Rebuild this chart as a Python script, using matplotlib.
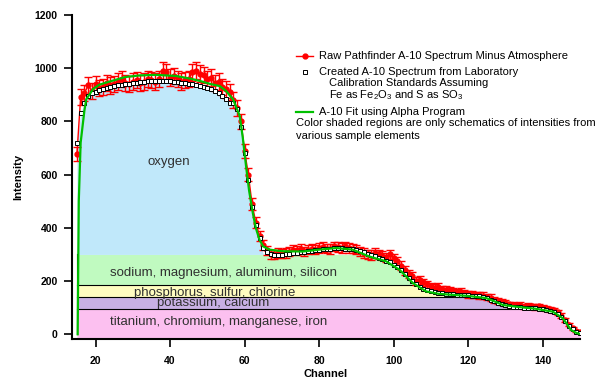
import numpy as np
import matplotlib
matplotlib.use('Agg')
import matplotlib.pyplot as plt
from matplotlib.lines import Line2D

plt.rcParams['font.family'] = ['Liberation Sans', 'DejaVu Sans']
plt.rcParams['mathtext.default'] = 'regular'

# channel numbers for the measured / lab spectra
channels = np.arange(15, 151)

# created spectrum from laboratory standards (open squares)
lab = [720, 830, 870, 895, 905, 912, 918, 922, 926, 930,
       933, 936, 938, 940, 942, 944, 946, 948, 950, 951,
       952, 953, 953, 953, 952, 951, 950, 948, 946, 944,
       942, 940, 937, 934, 930, 926, 921, 915, 907, 897,
       885, 868, 870, 845, 780, 680, 580, 480, 410, 360,
       325, 310, 302, 298, 297, 298, 300, 302, 304, 306,
       308, 310, 312, 314, 316, 318, 320, 321, 322, 323,
       323, 323, 322, 321, 319, 316, 313, 308, 303, 298,
       293, 288, 283, 277, 270, 262, 252, 240, 227, 213,
       200, 188, 178, 170, 165, 161, 158, 156, 154, 152,
       151, 150, 149, 148, 147, 146, 145, 144, 142, 139,
       135, 130, 124, 118, 113, 109, 106, 104, 102, 101,
       100, 99, 98, 97, 96, 94, 92, 89, 84, 76,
       64, 48, 32, 18, 10, 6]

# raw pathfinder spectrum minus atmosphere (red)
raw = [676, 892, 905, 935, 915, 940, 925, 930, 945, 935,
       940, 950, 960, 945, 940, 950, 955, 945, 950, 960,
       955, 950, 960, 990, 985, 965, 970, 960, 950, 955,
       960, 985, 990, 980, 975, 960, 965, 945, 950, 930,
       920, 910, 880, 850, 800, 690, 600, 490, 420, 370,
       335, 315, 300, 300, 305, 303, 305, 310, 318, 315,
       320, 312, 318, 322, 318, 325, 328, 322, 320, 330,
       328, 325, 330, 325, 322, 318, 312, 305, 300, 298,
       305, 300, 295, 290, 300, 285, 275, 258, 240, 225,
       218, 200, 205, 195, 188, 180, 175, 178, 170, 168,
       165, 160, 158, 160, 155, 150, 150, 148, 146, 145,
       140, 138, 130, 125, 122, 118, 112, 110, 108, 110,
       104, 106, 105, 103, 105, 100, 98, 94, 90, 82,
       70, 52, 36, 22, 12, 8]
raw = np.array(raw, dtype=float)
raw_err = np.sqrt(raw)  # counting error

# alpha program fit (green)
fit_ch = [15.2, 15.5, 16, 17, 17.5, 19.3, 21, 23.8, 28, 32, 36, 41.5, 45, 48, 51,
          53.3, 55, 56.9, 58.7, 59.5, 60.4, 61.2, 62.2, 63, 64, 65, 66.7, 70, 75.6,
          80, 84.6, 89, 93.5, 98, 101.6, 105.2, 108.7, 112, 115.9, 120, 124.8, 127,
          129.3, 133.8, 138, 142.7, 145.4, 147.6, 149, 150.3]
fit_val = [0, 500, 720, 840, 883, 921, 938, 950, 967, 973, 975, 971, 962, 952, 940,
           933, 915, 883, 820, 740, 630, 540, 456, 400, 355, 330, 318, 312, 311,
           318, 324, 318, 292, 274, 242, 192, 161, 152, 148, 144, 136, 124,
           110, 102, 96, 85, 60, 16, 5, 0]

# shaded element bands
band_names = ['titanium, chromium, manganese, iron', 'potassium, calcium',
              'phosphorus, sulfur, chlorine', 'sodium, magnesium, aluminum, silicon',
              'oxygen']
band_low = [-19, 95, 139, 186, 300]
band_high = [95, 139, 186, 300, 2000]
band_cols = ['#FCC0F0', '#C8B0E4', '#FFFCC0', '#C0FAC0', '#C0E8FA']
label_x = [53, 51.6, 52, 54.4, 39.6]
label_y = [46, 118, 156, 232, 646]

W, H = 596, 379
fig = plt.figure(figsize=(W / 100, H / 100), dpi=100)
ax = fig.add_axes([71.7 / W, 1 - 339.3 / H, (580 - 71.7) / W, (339.3 - 15) / H])

lab_arr = np.array(lab, dtype=float)
for i in range(len(band_names)):
    lo, hi = band_low[i], band_high[i]
    top = np.minimum(lab_arr, hi)
    mask = lab_arr > lo
    if band_names[i] == 'oxygen':
        mask = mask & (channels <= 64)
    ax.fill_between(channels, lo, top, where=mask, color=band_cols[i],
                    lw=0, interpolate=True, zorder=1)
    if i < 3:
        xs = channels[lab_arr >= hi]
        ax.plot([15, xs.max()], [hi, hi], color='black', lw=0.8, zorder=2)
    ax.text(label_x[i], label_y[i], band_names[i], ha='center', va='center',
            fontsize=9.5, color='#303030', zorder=3)
ax.plot([15, 15], [0, 300], color='black', lw=0.8, zorder=2)

ax.errorbar(channels, raw, yerr=raw_err, color='red', marker='o', ms=3.5,
            lw=1, elinewidth=1, capsize=3, capthick=1, zorder=4)
ax.plot(channels, lab, ls='none', marker='s', ms=3.2, mfc='white',
        mec='black', mew=0.7, zorder=5)
ax.plot(fit_ch, fit_val, color='#00C000', lw=1.6, zorder=6)

ax.set_xlim(13.6, 150)
ax.set_ylim(-19, 1200)
ax.set_xticks([20, 40, 60, 80, 100, 120, 140])
ax.set_yticks([0, 200, 400, 600, 800, 1000, 1200])
for s in ['top', 'right']:
    ax.spines[s].set_visible(False)
for s in ['left', 'bottom']:
    ax.spines[s].set_linewidth(1.5)
ax.tick_params(direction='out', length=6, width=1.2, labelsize=7.5)
ax.tick_params(axis='x', pad=6)
ax.tick_params(axis='y', pad=4)
for lbl in ax.get_xticklabels() + ax.get_yticklabels():
    lbl.set_fontweight('bold')
ax.set_xlabel('Channel', fontsize=8, fontweight='bold', labelpad=2)
ax.set_ylabel('Intensity', fontsize=8, fontweight='bold', labelpad=8)


def fx(px):
    return px / W


def fy(py):
    return 1 - py / H


fs = 8
fig.add_artist(Line2D([fx(296), fx(313)], [fy(56), fy(56)], color='red', lw=1))
fig.add_artist(Line2D([fx(304.5)], [fy(56)], color='red', marker='o', ms=3.5))
fig.text(fx(319), fy(56), 'Raw Pathfinder A-10 Spectrum Minus Atmosphere', fontsize=fs, va='center')
fig.add_artist(Line2D([fx(305)], [fy(71.7)], ls='none', marker='s', ms=3.2,
                      mfc='white', mec='black', mew=0.7))
fig.text(fx(319), fy(71.7), 'Created A-10 Spectrum from Laboratory', fontsize=fs, va='center')
fig.text(fx(329), fy(83.5), 'Calibration Standards Assuming', fontsize=fs, va='center')
fig.text(fx(329), fy(95), 'Fe as Fe$_2$O$_3$ and S as SO$_3$', fontsize=fs, va='center')
fig.add_artist(Line2D([fx(296), fx(313)], [fy(111.7), fy(111.7)], color='#00C000', lw=1.6))
fig.text(fx(319), fy(111.7), 'A-10 Fit using Alpha Program', fontsize=fs, va='center')
fig.text(fx(296), fy(123.3), 'Color shaded regions are only schematics of intensities from',
         fontsize=fs, va='center')
fig.text(fx(296), fy(135.7), 'various sample elements', fontsize=fs, va='center')

fig.savefig('out.png', dpi=100)
